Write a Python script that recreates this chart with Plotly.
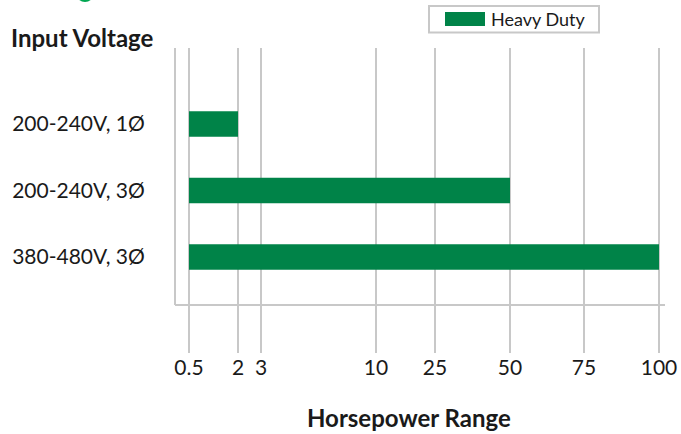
import numpy as np
import plotly.graph_objects as go

# ---- data ----
categories = ["200-240V, 1Ø", "200-240V, 3Ø", "380-480V, 3Ø"]
hp_min = [0.5, 0.5, 0.5]
hp_max = [2, 50, 100]
series_name = "Heavy Duty"

# axis scale: tick labels (hp) and their relative positions on the (non-linear) axis
tick_hp = [0.5, 2, 3, 10, 25, 50, 75, 100]
tick_labels = ["0.5", "2", "3", "10", "25", "50", "75", "100"]
tick_scale = [0, 49, 72, 187, 246, 321, 395, 470]

GREEN = "#008348"
GRID = "#c8c8c8"
TXT = "#1a1a1a"
FONT = "Lato"


def scale(v):
    return np.interp(v, tick_hp, tick_scale)


base = scale(hp_min)
length = scale(hp_max) - base

fig = go.Figure()
fig.add_trace(go.Bar(
    y=categories, x=length, base=base, orientation="h",
    marker=dict(color=GREEN, line=dict(width=0)),
    width=0.385, name=series_name, showlegend=False, hoverinfo="skip",
))

W, H = 681, 434
L, R, T, B = 175, 16, 48, 81
pw, ph = W - L - R, H - T - B


def px(x):
    return (x - L) / pw


def py(y):
    return (H - B - y) / ph


fig.update_layout(
    width=W, height=H,
    margin=dict(l=L, r=R, t=T, b=B, autoexpand=False),
    paper_bgcolor="white", plot_bgcolor="white",
    font=dict(family=FONT, color=TXT, size=19),
    xaxis=dict(
        range=[-14, 476], tickvals=list(scale(tick_hp)), ticktext=tick_labels,
        showgrid=True, gridcolor=GRID, gridwidth=2, zeroline=False, automargin=False,
        showline=False, ticks="", ticklabelstandoff=0,
        tickfont=dict(size=21, color=TXT, family=FONT),
    ),
    yaxis=dict(
        range=[3.444, -1.143], showgrid=False, zeroline=False, showline=False, automargin=False,
        ticks="outside", ticklen=25, tickcolor="rgba(0,0,0,0)",
        tickfont=dict(size=21, color=TXT, family=FONT),
    ),
    bargap=0.6,
)

shapes = [
    # frame lines
    dict(type="line", xref="paper", yref="paper", x0=0, x1=px(665), y0=py(305), y1=py(305),
         line=dict(color=GRID, width=2)),
    dict(type="line", xref="paper", yref="paper", x0=0, x1=0, y0=py(305), y1=1,
         line=dict(color=GRID, width=2)),
    # legend box
    dict(type="rect", xref="paper", yref="paper", x0=px(429), x1=px(599), y0=py(32.5), y1=py(6),
         line=dict(color=GRID, width=2), fillcolor="white"),
    dict(type="rect", xref="paper", yref="paper", x0=px(445), x1=px(485), y0=py(26), y1=py(12),
         line=dict(width=0), fillcolor=GREEN),
    # cropped logo dot at top
    dict(type="circle", xref="paper", yref="paper", x0=px(76), x1=px(94), y0=py(2), y1=py(-16),
         line=dict(width=0), fillcolor="#00a651"),
]
fig.update_layout(shapes=shapes)

fig.add_annotation(xref="paper", yref="paper", x=px(489), y=py(19), text=series_name,
                   showarrow=False, xanchor="left", yanchor="middle",
                   font=dict(size=18, color=TXT, family=FONT))
fig.add_annotation(xref="paper", yref="paper", x=px(9), y=py(37), text="<b>Input Voltage</b>",
                   showarrow=False, xanchor="left", yanchor="middle",
                   font=dict(size=24, color=TXT, family=FONT))
fig.add_annotation(xref="paper", yref="paper", x=px(409), y=py(417), text="<b>Horsepower Range</b>",
                   showarrow=False, xanchor="center", yanchor="middle",
                   font=dict(size=24, color=TXT, family=FONT))

fig.write_html("out.html", config={"displayModeBar": False},
               post_script="document.body.style.margin='0';")
